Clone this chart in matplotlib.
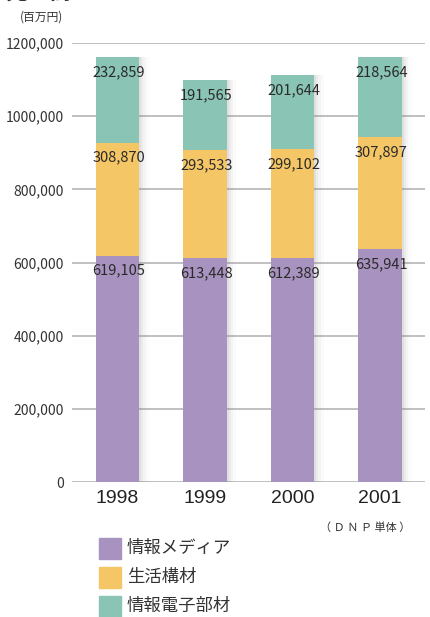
import numpy as np
import matplotlib
matplotlib.use('Agg')
import matplotlib.pyplot as plt
from matplotlib.ticker import FuncFormatter

plt.rcParams['font.family'] = ['Noto Sans CJK JP', 'DejaVu Sans']

# data
years = ['1998', '1999', '2000', '2001']
media = [619105, 613448, 612389, 635941]      # 情報メディア
living = [308870, 293533, 299102, 307897]     # 生活構材
elec = [232859, 191565, 201644, 218564]       # 情報電子部材
series_names = ['情報メディア', '生活構材', '情報電子部材']
colors = ['#a892bf', '#f5c666', '#89c4b4']
yticks = [0, 200000, 400000, 600000, 800000, 1000000, 1200000]

W, H = 430, 617
fig = plt.figure(figsize=(W / 100, H / 100), dpi=100)
ax = fig.add_axes([72 / W, 1 - 482 / H, (425 - 72) / W, (482 - 43) / H])

x = np.arange(len(years))
bw = 0.5

# grid behind bars
for t in yticks:
    ax.axhline(t, color='#b5b5b5', lw=1.2, zorder=0)

# soft shadow on right of bars
totals = np.array(media) + np.array(living) + np.array(elec)
for k, a in [(0.02, 0.10), (0.045, 0.07), (0.075, 0.05), (0.105, 0.03)]:
    ax.bar(x + k, totals, bw, color='#808080', alpha=a, zorder=1, linewidth=0)

bottom = np.zeros(len(years))
for vals, c, name in zip([media, living, elec], colors, series_names):
    ax.bar(x, vals, bw, bottom=bottom, color=c, zorder=2, linewidth=0, label=name)
    tops = bottom + np.array(vals)
    for xi, top, v in zip(x, tops, vals):
        ax.annotate(f'{v:,}', (xi, top), xytext=(1, -11), textcoords='offset points',
                    ha='center', va='center', fontsize=10.5, color='#2a2a2a', zorder=3)
    bottom = tops

ax.set_xlim(-0.52, 3.514)
ax.set_ylim(0, 1200000)
ax.set_yticks(yticks)
ax.yaxis.set_major_formatter(FuncFormatter(
    lambda v, p: '0' if v == 0 else f'{int(v) // 1000},{int(v) % 1000:03d}'))
ax.set_xticks(x)
ax.set_xticklabels(years, fontsize=14, family=['Liberation Sans', 'DejaVu Sans'])
ax.tick_params(axis='y', length=0, pad=6, labelsize=10, labelcolor='#333333')
ax.tick_params(axis='x', length=0, pad=6, labelcolor='#222222')
for s in ax.spines.values():
    s.set_visible(False)

# titles and notes
fig.text(5 / W, 1 - 5 / H, '売上高', fontsize=16, fontweight='bold', va='bottom', ha='left', color='#333333')
fig.text(20 / W, 1 - 17 / H, '(百万円)', fontsize=8.5, va='center', ha='left', color='#333333')
fig.text(410 / W, 1 - 528 / H, '（ Ｄ Ｎ Ｐ 単体 ）', fontsize=8, va='center', ha='right', color='#333333')

# legend
for i, (name, c) in enumerate(zip(series_names, colors)):
    yc = 548 + i * 29
    fig.patches.append(plt.Rectangle((99 / W, 1 - (yc + 11) / H), 22 / W, 21 / H,
                                     transform=fig.transFigure, color=c, figure=fig))
    fig.text(127 / W, 1 - yc / H, name, fontsize=12.5, va='center', ha='left', color='#333333')

fig.savefig('out.png', dpi=100)
